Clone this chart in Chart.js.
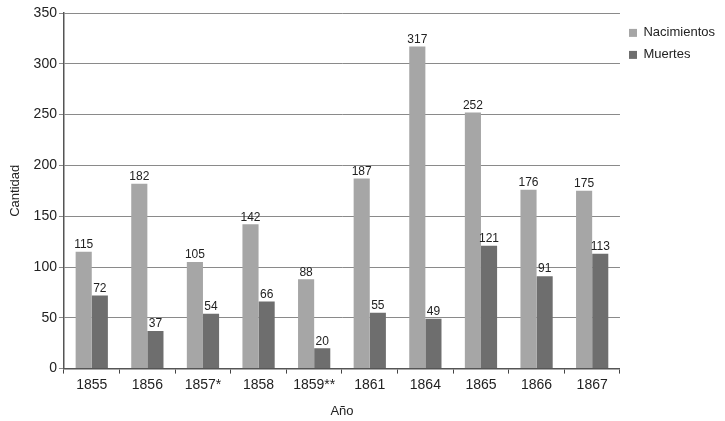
<!DOCTYPE html>
<html>
<head>
<meta charset="utf-8">
<script src="https://cdn.jsdelivr.net/npm/chart.js@4"></script>
<style>
  body { margin: 0; background: #fff; }
  #wrap { width: 725px; height: 421px; }
</style>
</head>
<body>
<div id="wrap"><canvas id="myChart"></canvas></div>
<script>
const years = ["1855", "1856", "1857*", "1858", "1859**", "1861", "1864", "1865", "1866", "1867"];
const nacimientos = [115, 182, 105, 142, 88, 187, 317, 252, 176, 175];
const muertes = [72, 37, 54, 66, 20, 55, 49, 121, 91, 113];

const FONT = "'Liberation Sans', Arial, sans-serif";

// value labels above each bar
const valueLabels = {
  id: "valueLabels",
  afterDatasetsDraw(chart) {
    const ctx = chart.ctx;
    ctx.save();
    ctx.font = "12px " + FONT;
    ctx.fillStyle = "#222";
    ctx.textAlign = "center";
    ctx.textBaseline = "bottom";
    chart.data.datasets.forEach((ds, i) => {
      chart.getDatasetMeta(i).data.forEach((bar, j) => {
        ctx.fillText(ds.data[j], bar.x, bar.y - 1);
      });
    });
    ctx.restore();
  },
};

const ctx = document.getElementById("myChart").getContext("2d");
const myChart = new Chart(ctx, {
  type: "bar",
  data: {
    labels: years,
    datasets: [
      {
        label: "Nacimientos",
        data: nacimientos,
        backgroundColor: "#a6a6a6",
      },
      {
        label: "Muertes",
        data: muertes,
        backgroundColor: "#6e6e6e",
      },
    ],
  },
  options: {
    responsive: true,
    maintainAspectRatio: false,
    animation: false,
    layout: { padding: { top: 13, right: 0, bottom: 2, left: 8 } },
    datasets: {
      bar: { categoryPercentage: 0.58, barPercentage: 1.0 },
    },
    plugins: {
      tooltip: { enabled: false },
      legend: {
        position: "right",
        align: "start",
        // tiny empty title just to push the items down a bit
        title: { display: true, text: "", font: { size: 2 }, padding: 1 },
        labels: {
          boxWidth: 8,
          boxHeight: 8,
          padding: 9,
          color: "#222",
          font: { family: FONT, size: 13 },
        },
      },
    },
    scales: {
      x: {
        grid: {
          offset: true,
          drawOnChartArea: false,
          color: "#444",
          tickLength: 5,
        },
        border: { color: "#555", width: 1.5 },
        ticks: {
          color: "#222",
          font: { family: FONT, size: 14 },
          padding: 3,
        },
        title: {
          display: true,
          text: "Año",
          color: "#222",
          font: { family: FONT, size: 13 },
          padding: { top: 7, bottom: 0 },
        },
      },
      y: {
        min: 0,
        max: 350,
        ticks: {
          stepSize: 50,
          color: "#222",
          font: { family: FONT, size: 14 },
          padding: 2,
        },
        grid: { color: "#8a8a8a", tickLength: 5 },
        border: { color: "#555", width: 1.5 },
        title: {
          display: true,
          text: "Cantidad",
          color: "#222",
          font: { family: FONT, size: 13 },
          padding: { top: 0, bottom: 8 },
        },
      },
    },
  },
  plugins: [valueLabels],
});
</script>
</body>
</html>
